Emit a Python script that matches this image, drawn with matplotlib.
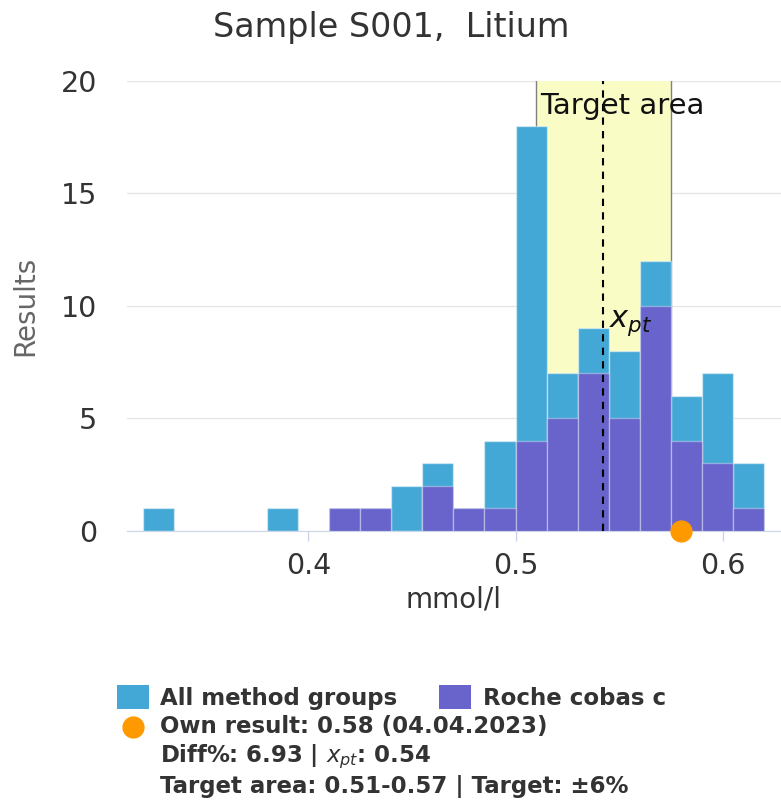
import matplotlib
matplotlib.use("Agg")
import matplotlib.pyplot as plt
import numpy as np
from matplotlib.patches import Rectangle
from matplotlib.lines import Line2D

plt.rcParams['font.family'] = ['DejaVu Sans']
plt.rcParams['mathtext.fontset'] = 'dejavusans'

# histogram bins (mmol/l), width 0.015 from 0.32 to 0.62
bin_start = 0.32
bin_width = 0.015
all_counts = [1, 0, 0, 0, 1, 0, 1, 1, 2, 3, 1, 4, 18, 7, 9, 8, 12, 6, 7, 3]
roche_counts = [0, 0, 0, 0, 0, 0, 1, 1, 0, 2, 1, 1, 4, 5, 7, 5, 10, 4, 3, 1]

own_result = 0.58
own_date = "04.04.2023"
xpt = 0.5424
target_pct = 6

target_lo = xpt * (1 - target_pct / 100)
target_hi = xpt * (1 + target_pct / 100)
diff_pct = (own_result / xpt - 1) * 100

BLUE = "#44a8d6"
PURPLE = "#6864cb"
YELLOW = "#fafcc6"
ORANGE = "#ff9900"
TXT = "#333333"

W, H = 781, 810
fig = plt.figure(figsize=(W / 100, H / 100), dpi=100)

# plot area in pixels: left 127, right 781, top 80.7, bottom 531
ax = fig.add_axes([127 / W, (H - 531) / H, (W - 127) / W, (531 - 80.7) / H])

edges = bin_start + bin_width * np.arange(len(all_counts))

ax.axvspan(target_lo, target_hi, color=YELLOW, zorder=1, lw=0)
ax.axvline(target_lo, color="#808080", lw=1, zorder=1.5)
ax.axvline(target_hi, color="#808080", lw=1, zorder=1.5)

ax.bar(edges, all_counts, width=bin_width, align='edge', color=BLUE,
       edgecolor=(1, 1, 1, 0.45), linewidth=1, zorder=2)
ax.bar(edges, roche_counts, width=bin_width, align='edge', color=PURPLE,
       edgecolor=(1, 1, 1, 0.35), linewidth=1, zorder=3)

ax.axvline(xpt, color="black", lw=1.5, ls=(0, (3.5, 3)), zorder=4)

ax.plot([own_result], [0], 'o', color=ORANGE, markersize=15, clip_on=False, zorder=6)

ax.annotate("Target area", xy=(target_lo, 20), xytext=(2.8, -8), textcoords='offset points',
            ha='left', va='top', fontsize=21, color="#111111", zorder=5)
ax.text(xpt + 0.0025, 9.25, r"$x_{pt}$", fontsize=22, color="#111111", va='center', ha='left', zorder=5)

ax.set_xlim(0.3125, 0.6281)
ax.set_ylim(0, 20)
ax.set_xticks([0.4, 0.5, 0.6])
ax.set_xticklabels(["0.4", "0.5", "0.6"])
ax.set_yticks([0, 5, 10, 15, 20])

ax.grid(axis='y', color="#e6e6e6", lw=1, zorder=0)
ax.set_axisbelow(True)
for s in ['top', 'right', 'left']:
    ax.spines[s].set_visible(False)
ax.spines['bottom'].set_color("#ccd6eb")
ax.spines['bottom'].set_zorder(2.5)

ax.tick_params(axis='x', length=7.2, width=1, color="#ccd6eb", pad=8, labelsize=20.5, labelcolor=TXT)
ax.tick_params(axis='y', length=0, pad=21.5, labelsize=20.5, labelcolor=TXT)

ax.set_xlabel("mmol/l", fontsize=20, color=TXT, labelpad=4)
fig.text(25 / W, 1 - 306 / H, "Results", rotation=90, ha='center', va='center',
         fontsize=20, color="#666666")

fig.text(391 / W, 1 - 37 / H, "Sample S001,  Litium", ha='center', va='baseline',
         fontsize=24, color=TXT)

# legend block below the chart
def px(x, y):
    return x / W, 1 - y / H

fig.patches.append(Rectangle(px(117, 709), 32 / W, 24 / H, transform=fig.transFigure,
                             facecolor=BLUE, edgecolor='none'))
fig.patches.append(Rectangle(px(439.5, 709), 32 / W, 24 / H, transform=fig.transFigure,
                             facecolor=PURPLE, edgecolor='none'))
fig.lines.append(Line2D([133.3 / W], [1 - 726.7 / H], marker='o', color=ORANGE,
                        markersize=15, transform=fig.transFigure))

lkw = dict(fontsize=16.5, fontweight='bold', color=TXT, va='baseline', ha='left')
fig.text(*px(160, 705), "All method groups", **lkw)
fig.text(*px(483, 705), "Roche cobas c", **lkw)
fig.text(*px(160, 733), f"Own result: {own_result:.2f} ({own_date})", **lkw)
fig.text(*px(160, 762), f"Diff%: {diff_pct:.2f} | " + r"$x_{pt}$" + f": {xpt:.2f}", **lkw)
fig.text(*px(160, 793), f"Target area: {target_lo:.2f}-{target_hi:.2f} | Target: ±{target_pct}%", **lkw)

fig.savefig("out.png", dpi=100, facecolor="white")
